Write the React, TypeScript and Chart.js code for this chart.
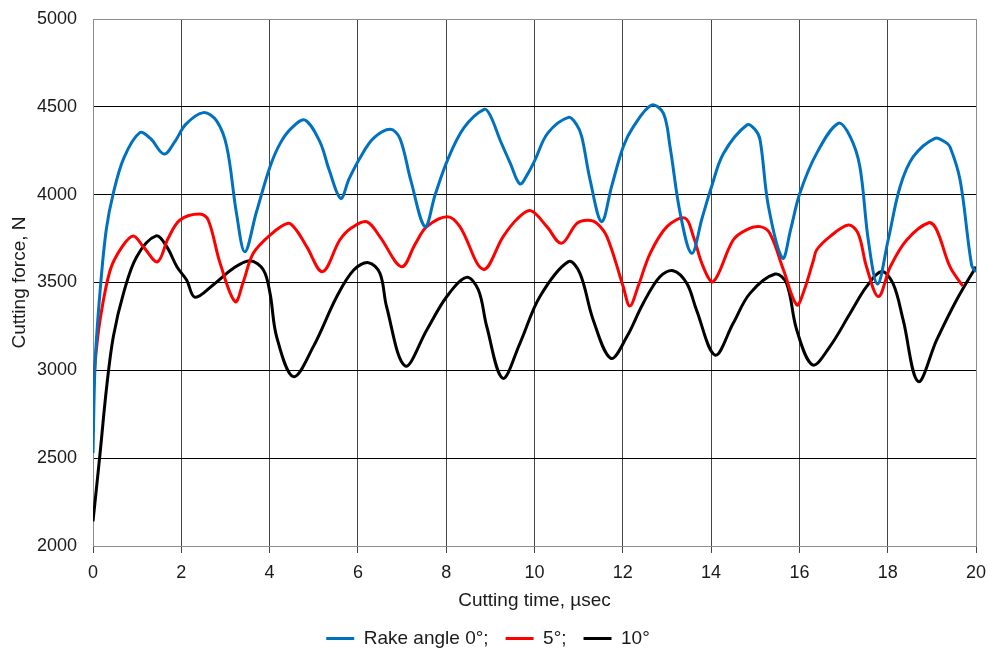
import React, { useEffect, useRef } from "react";
import { Chart, registerables } from "chart.js";

Chart.register(...registerables);

const xTicks = [0, 2, 4, 6, 8, 10, 12, 14, 16, 18, 20];
const yTicks = [2000, 2500, 3000, 3500, 4000, 4500, 5000];
const seriesNames = ["Rake angle 0°;", "5°;", "10°"];
const seriesColors = ["#0070C0", "#FF0000", "#000000"];

const t0 = [0, 0.05, 0.16, 0.3, 0.46, 0.7, 1.06, 1.3, 1.61, 1.85, 2.1, 2.5, 2.8, 3.03, 3.25, 3.44, 3.7, 4.01, 4.24, 4.5, 4.8, 5.14, 5.35, 5.61, 5.8, 6.05, 6.35, 6.73, 6.95, 7.2, 7.52, 7.75, 8.03, 8.4, 8.86, 9.0, 9.22, 9.45, 9.67, 9.85, 10.01, 10.3, 10.77, 10.95, 11.07, 11.26, 11.52, 11.75, 12.01, 12.24, 12.65, 12.92, 13.07, 13.3, 13.56, 13.8, 14.01, 14.28, 14.81, 15.0, 15.11, 15.3, 15.62, 15.8, 16.01, 16.39, 16.88, 17.15, 17.37, 17.56, 17.77, 18.01, 18.28, 18.58, 19.07, 19.3, 19.41, 19.64, 19.9, 20];
const f0 = [2530, 3050, 3450, 3800, 4008, 4210, 4353, 4320, 4231, 4300, 4400, 4467, 4420, 4273, 3894, 3675, 3900, 4159, 4292, 4380, 4425, 4300, 4140, 3979, 4090, 4210, 4320, 4372, 4321, 4080, 3818, 4000, 4197, 4380, 4486, 4450, 4311, 4180, 4061, 4120, 4197, 4350, 4440, 4400, 4330, 4083, 3846, 4050, 4273, 4387, 4510, 4463, 4273, 3894, 3666, 3870, 4045, 4235, 4397, 4370, 4311, 3931, 3638, 3800, 4008, 4235, 4406, 4330, 4159, 3742, 3491, 3742, 4045, 4216, 4321, 4300, 4273, 4083, 3600, 3560];

const t5 = [0, 0.05, 0.16, 0.39, 0.65, 0.91, 1.15, 1.46, 1.7, 1.97, 2.42, 2.61, 2.88, 3.22, 3.4, 3.63, 4.01, 4.42, 4.6, 4.84, 5.2, 5.59, 5.85, 6.2, 6.5, 6.99, 7.3, 7.56, 8.03, 8.31, 8.84, 9.29, 9.6, 9.91, 10.28, 10.61, 10.96, 11.2, 11.4, 11.64, 12.01, 12.16, 12.35, 12.62, 13.0, 13.41, 13.6, 13.82, 14.05, 14.5, 14.8, 15.11, 15.33, 15.64, 15.94, 16.1, 16.32, 16.39, 16.69, 17.11, 17.33, 17.52, 17.79, 18.06, 18.43, 18.93, 19.11, 19.41, 19.7];
const f5 = [2830, 3050, 3287, 3571, 3700, 3765, 3700, 3618, 3750, 3856, 3890, 3856, 3609, 3391, 3500, 3666, 3770, 3837, 3800, 3704, 3562, 3742, 3810, 3846, 3760, 3590, 3720, 3818, 3875, 3818, 3575, 3761, 3860, 3909, 3818, 3723, 3837, 3855, 3840, 3761, 3476, 3366, 3480, 3666, 3818, 3866, 3761, 3590, 3505, 3742, 3800, 3818, 3780, 3571, 3372, 3450, 3628, 3685, 3761, 3827, 3780, 3590, 3420, 3590, 3742, 3840, 3799, 3590, 3480];

const t10 = [0, 0.16, 0.31, 0.46, 0.69, 0.99, 1.43, 1.67, 1.9, 2.12, 2.31, 2.72, 3.18, 3.56, 3.86, 4.01, 4.16, 4.54, 4.99, 5.52, 5.9, 6.24, 6.5, 6.65, 7.07, 7.56, 8.01, 8.46, 8.73, 8.92, 9.28, 9.67, 10.12, 10.77, 11.03, 11.33, 11.73, 12.09, 12.46, 12.84, 13.14, 13.45, 13.67, 14.09, 14.5, 14.88, 15.45, 15.71, 15.94, 16.3, 16.69, 17.15, 17.52, 17.86, 18.12, 18.35, 18.69, 19.11, 19.56, 20];
const f10 = [2140, 2528, 2907, 3191, 3438, 3647, 3765, 3704, 3590, 3514, 3416, 3486, 3581, 3624, 3571, 3438, 3191, 2964, 3135, 3419, 3570, 3613, 3552, 3362, 3025, 3230, 3419, 3529, 3457, 3248, 2955, 3154, 3419, 3619, 3552, 3287, 3068, 3191, 3381, 3533, 3567, 3495, 3343, 3087, 3268, 3438, 3548, 3495, 3230, 3031, 3135, 3325, 3476, 3562, 3495, 3287, 2936, 3173, 3400, 3590];

const FONT = "'Liberation Sans', Arial, sans-serif";

function pts(t: number[], f: number[]) {
  return t.map((x, i) => ({ x, y: f[i] }));
}

export default function App() {
  const ref = useRef<HTMLCanvasElement | null>(null);
  useEffect(() => {
    document.body.style.margin = "0";
    const canvas = ref.current;
    if (!canvas) return;
    const series = [pts(t0, f0), pts(t5, f5), pts(t10, f10)];
    const chart = new Chart(canvas, {
      type: "line",
      data: {
        datasets: series.map((d, i) => ({
          label: seriesNames[i],
          data: d,
          borderColor: seriesColors[i],
          backgroundColor: seriesColors[i],
          borderWidth: 3,
          pointRadius: 0,
          fill: false,
          tension: 0.35,
        })),
      },
      options: {
        animation: false,
        responsive: false,
        maintainAspectRatio: false,
        layout: { padding: { top: 19, right: 12, bottom: -7, left: 0 } },
        plugins: {
          tooltip: { enabled: false },
          legend: {
            position: "bottom",
            labels: {
              boxWidth: 28,
              boxHeight: 3,
              padding: 17,
              color: "#1a1a1a",
              font: { family: FONT, size: 19 },
              generateLabels: (c: any) =>
                c.data.datasets.map((ds: any, i: number) => ({
                  text: ds.label,
                  fillStyle: seriesColors[i],
                  strokeStyle: seriesColors[i],
                  lineWidth: 0,
                  hidden: false,
                  datasetIndex: i,
                  fontColor: "#1a1a1a",
                })),
            },
          },
        },
        scales: {
          x: {
            type: "linear",
            min: 0,
            max: 20,
            afterBuildTicks: (s: any) => {
              s.ticks = xTicks.map((v) => ({ value: v }));
            },
            afterFit: (s: any) => {
              s.height = 66;
            },
            ticks: {
              color: "#1a1a1a",
              font: { family: FONT, size: 18, lineHeight: 2.2 },
              padding: 0,
              maxRotation: 0,
              callback: (v: any) => String(v),
            },
            grid: { color: "#454545", lineWidth: 1, tickLength: 7, drawTicks: true },
            border: { display: true, color: "#8c8c8c" },
            title: {
              display: true,
              text: "Cutting time, µsec",
              color: "#1a1a1a",
              font: { family: FONT, size: 19 },
              padding: { top: 0, bottom: 0 },
            },
          },
          y: {
            type: "linear",
            min: 2000,
            max: 5000,
            afterBuildTicks: (s: any) => {
              s.ticks = yTicks.map((v) => ({ value: v }));
            },
            afterFit: (s: any) => {
              s.width = 93;
            },
            ticks: {
              color: "#1a1a1a",
              font: { family: FONT, size: 18 },
              padding: 3,
              callback: (v: any) => String(v),
            },
            grid: {
              color: (ctx: any) =>
                ctx.tick && (ctx.tick.value === 2000 || ctx.tick.value === 5000) ? "#8c8c8c" : "#000000",
              lineWidth: 1,
              drawTicks: true,
              tickLength: 13,
              tickColor: "rgba(0,0,0,0)",
            },
            border: { display: true, color: "#8c8c8c" },
            title: {
              display: true,
              text: "Cutting force, N",
              color: "#1a1a1a",
              font: { family: FONT, size: 19 },
              padding: { top: 8.5, bottom: 0 },
            },
          },
        },
      },
      plugins: [
        {
          id: "rightBorder",
          afterDraw(c: any) {
            const { ctx, chartArea } = c;
            ctx.save();
            ctx.strokeStyle = "#8c8c8c";
            ctx.lineWidth = 1;
            ctx.beginPath();
            ctx.moveTo(Math.round(chartArea.right) + 0.5, chartArea.top);
            ctx.lineTo(Math.round(chartArea.right) + 0.5, chartArea.bottom);
            ctx.stroke();
            ctx.restore();
          },
        },
      ],
    } as any);
    return () => chart.destroy();
  }, []);
  return (
    <div style={{ width: 988, height: 651, background: "#fff" }}>
      <canvas ref={ref} width={988} height={651} style={{ display: "block", width: 988, height: 651 }} />
    </div>
  );
}
